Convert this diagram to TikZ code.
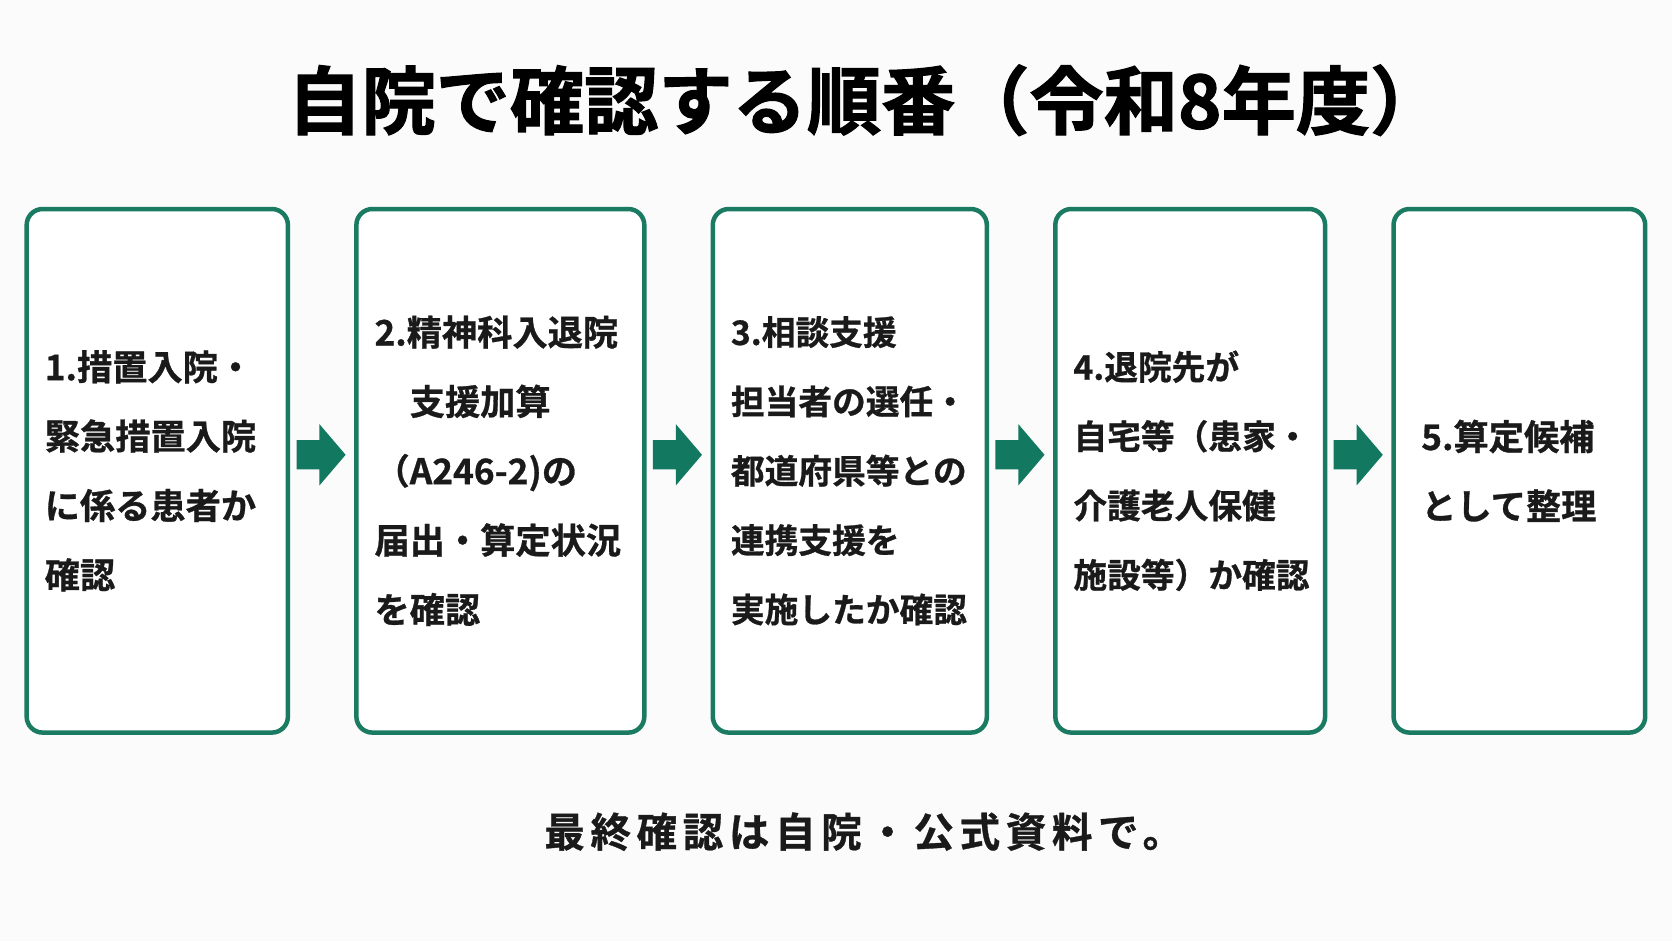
\documentclass[tikz,border=0pt]{standalone}
\usepackage{fontspec}
\setmainfont{Noto Sans CJK JP}[BoldFont={* Bold}, BoldFeatures={FakeBold=0.8}]
\newfontfamily\heavyfont{Noto Sans CJK JP}[UprightFont={* Bold}, FakeBold=1.6]
\usepackage{tikz}
\usetikzlibrary{positioning}
\usetikzlibrary{shapes.arrows}
\definecolor{FrameGreen}{HTML}{1B7A62}
\definecolor{ArrowGreen}{HTML}{12785F}
\definecolor{Ink}{HTML}{1A1A1A}
\definecolor{Paper}{HTML}{FBFBFB}

\begin{document}
\begin{tikzpicture}[
    node distance=0.6cm,
    stepbox/.style={draw=FrameGreen, line width=1.2pt, fill=white, rounded corners=0.15cm,
      minimum height=4.91cm, inner xsep=0.17cm, align=left, text=Ink,
      font=\bfseries\fontsize{9.4}{18.5}\selectfont},
    flowarrow/.style={single arrow, fill=ArrowGreen, inner xsep=0pt, inner ysep=0.13cm,
      single arrow head extend=0.15cm, single arrow tip angle=99, minimum height=0.46cm, outer sep=0pt}
  ]
        % page
        \fill[Paper] (0,0) rectangle (15.68,-8.82);
        \useasboundingbox (0,0) rectangle (15.68,-8.82);

        % title
        \node[font=\heavyfont\fontsize{19.8}{22}\selectfont] (T) at (8.12,-0.94) {自院で確認する順番（令和8年度）};

        % step boxes
        \node[stepbox, text width=2.11cm] (S1) at (1.475,-4.415) {1.措置入院・\\緊急措置入院\\に係る患者か\\確認};
        \node[stepbox, text width=2.36cm, right=of S1] (S2) {2.精神科入退院\\\hspace*{1em}支援加算\\（A246-2)の\\届出・算定状況\\を確認};
        \node[stepbox, text width=2.23cm, right=of S2, font=\bfseries\fontsize{9}{18.5}\selectfont] (S3) {3.相談支援\\担当者の選任・\\都道府県等との\\連携支援を\\実施したか確認};
        \node[stepbox, text width=2.19cm, right=of S3, font=\bfseries\fontsize{9}{18.5}\selectfont] (S4) {4.退院先が\\自宅等（患家・\\介護老人保健\\施設等）か確認};
        \node[stepbox, text width=1.84cm, inner xsep=0.26cm, right=of S4] (S5) {5.算定候補\\として整理};

        % arrows
        \node[flowarrow, right=0.06cm of S1, yshift=0.15cm] (A1) {};
        \node[flowarrow, right=0.06cm of S2, yshift=0.15cm] (A2) {};
        \node[flowarrow, right=0.06cm of S3, yshift=0.15cm] (A3) {};
        \node[flowarrow, right=0.06cm of S4, yshift=0.15cm] (A4) {};

        % note
        \node[font=\bfseries\fontsize{10.8}{13}\selectfont, text=Ink] (N) at (8.1,-7.80) {\addfontfeatures{LetterSpace=14}最終確認は自院・公式資料で。};
\end{tikzpicture}
\end{document}
